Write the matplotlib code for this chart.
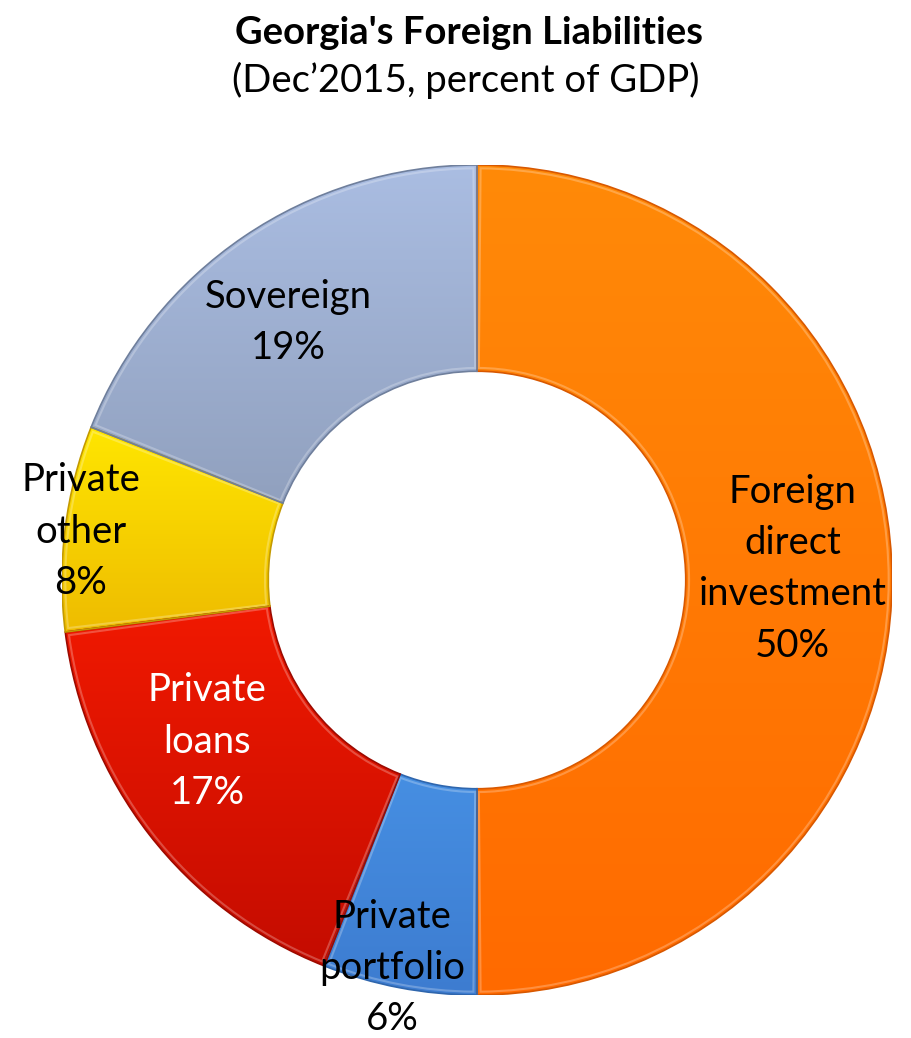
import numpy as np
import matplotlib
matplotlib.use('Agg')
import matplotlib.pyplot as plt
from matplotlib.patches import Wedge
from matplotlib.colors import LinearSegmentedColormap

plt.rcParams['font.family'] = ['Lato', 'DejaVu Sans']

# slices, clockwise from 12 o'clock
labels = ['Foreign\ndirect\ninvestment', 'Private\nportfolio', 'Private\nloans',
          'Private\nother', 'Sovereign']
shares = [50, 6, 17, 8, 19]
# top and bottom colour of each slice's vertical gradient
top_colors = ['#ff8a08', '#4e9ff2', '#f41a00', '#ffe600', '#aabde2']
bottom_colors = ['#ff6a00', '#3d7cd0', '#c40c00', '#eebc00', '#8b9ab6']
edge_colors = ['#d85800', '#2f66ad', '#9c0a00', '#c49a00', '#6f7f9c']
text_colors = ['black', 'black', 'white', 'black', 'black']
# label anchor, in units of the outer radius
label_pos = [(0.76, 0.027), (-0.205, -0.935), (-0.65, -0.39),
             (-0.955, 0.116), (-0.455, 0.62)]

fig = plt.figure(figsize=(9.12, 10.38), dpi=100)
ax = fig.add_axes([62 / 912, 43 / 1038, 830 / 912, 830 / 1038])
ax.axis('off')

wedges, _ = ax.pie(shares, startangle=90, counterclock=False, radius=1.0,
                   colors=top_colors,
                   wedgeprops=dict(width=0.497, edgecolor='none'))

grad = np.linspace(0, 1, 256).reshape(-1, 1)
for w, c_top, c_bot, c_edge in zip(wedges, top_colors, bottom_colors, edge_colors):
    verts = w.get_path().vertices
    x0, x1 = verts[:, 0].min(), verts[:, 0].max()
    y0, y1 = verts[:, 1].min(), verts[:, 1].max()
    cmap = LinearSegmentedColormap.from_list('grad', [c_bot, c_top])
    im = ax.imshow(grad, cmap=cmap, extent=(x0, x1, y0, y1), origin='lower',
                   aspect='auto', interpolation='bicubic', zorder=2)
    im.set_clip_path(w)
    # thin rim along the slice outline (bevel look)
    ax.add_patch(Wedge(w.center, w.r, w.theta1, w.theta2, width=w.width,
                       fill=False, edgecolor=c_edge, linewidth=1.2, zorder=3))
    ax.add_patch(Wedge(w.center, w.r - 0.008, w.theta1 + 0.5, w.theta2 - 0.5,
                       width=w.width - 0.016, fill=False, edgecolor='white',
                       alpha=0.25, linewidth=1.5, zorder=3))

for lab, pct, (lx, ly), tc in zip(labels, shares, label_pos, text_colors):
    ax.text(lx, ly, f'{lab}\n{pct}%', ha='center', va='center', fontsize=27.5,
            color=tc, linespacing=1.53, zorder=5)

ax.set_xlim(-1, 1)
ax.set_ylim(-1, 1)

fig.text(469 / 912, 1 - 33 / 1038, "Georgia's Foreign Liabilities", ha='center',
         va='center', fontsize=27.5, fontweight='bold')
fig.text(466 / 912, 1 - 80 / 1038, '(Dec\u20192015, percent of GDP)', ha='center',
         va='center', fontsize=27.5)

fig.savefig('out.png', dpi=100, facecolor='white')
